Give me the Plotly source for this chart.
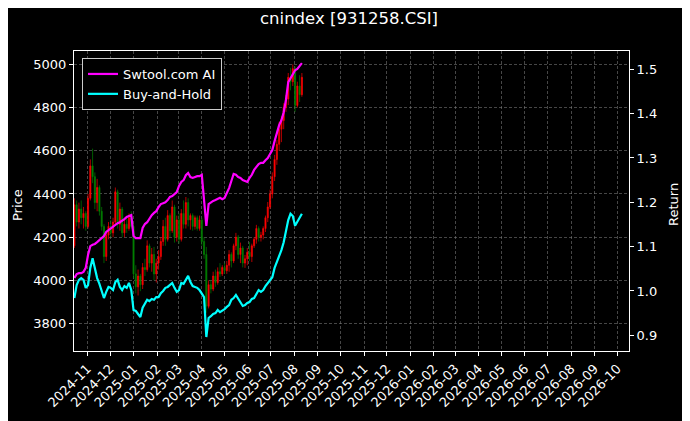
import pandas as pd
import plotly.graph_objects as go

# ---------------- data ----------------
start_date = "2024-10-15"   # first sample, samples every 3 calendar days
step = "3D"

open_ = [4160, 4350, 4270, 4330, 4290, 4310, 4250, 4380, 4530, 4480,
         4360, 4430, 4320, 4250, 4110, 4210, 4250, 4220, 4270, 4410,
         4260, 4330, 4220, 4260, 4240, 4290, 4250, 4030, 3970, 4020,
         3980, 4060, 4050, 4160, 4080, 4120, 4030, 4080, 4110, 4180,
         4250, 4190, 4300, 4230, 4340, 4200, 4280, 4190, 4310, 4260,
         4360, 4280, 4300, 4250, 4290, 4240, 4280, 4180, 4120, 3880,
         3980, 3960, 4020, 3990, 4040, 4030, 4060, 4045, 4070, 4120,
         4090, 4160, 4200, 4120, 4150, 4080, 4100, 4130, 4110, 4160,
         4190, 4240, 4200, 4210, 4240, 4290, 4340, 4400, 4480, 4560,
         4630, 4700, 4740, 4800, 4840, 4940, 4920, 4980, 4810, 4900,
         4860]
high = [4380, 4370, 4360, 4370, 4340, 4320, 4400, 4560, 4610, 4500,
        4470, 4440, 4340, 4260, 4230, 4270, 4280, 4290, 4430, 4420,
        4360, 4340, 4280, 4300, 4310, 4320, 4260, 4070, 4050, 4030,
        4080, 4100, 4185, 4170, 4150, 4155, 4100, 4140, 4200, 4280,
        4290, 4325, 4310, 4370, 4350, 4300, 4310, 4330, 4370, 4386,
        4380, 4310, 4310, 4300, 4300, 4300, 4290, 4200, 4155, 4000,
        4000, 4040, 4050, 4060, 4080, 4070, 4080, 4090, 4140, 4130,
        4170, 4220, 4210, 4175, 4160, 4118, 4150, 4178, 4170, 4200,
        4257, 4250, 4225, 4250, 4300, 4363, 4420, 4500, 4581, 4650,
        4734, 4760, 4820, 4858, 4960, 4984, 5000, 4990, 4920, 4950,
        4960]
low = [4150, 4250, 4240, 4260, 4240, 4230, 4240, 4370, 4450, 4330,
       4320, 4300, 4230, 4080, 4090, 4190, 4200, 4200, 4260, 4240,
       4230, 4200, 4200, 4220, 4230, 4240, 4010, 3940, 3930, 3950,
       3960, 4020, 4040, 4060, 4040, 4000, 3990, 4050, 4095, 4160,
       4160, 4180, 4200, 4220, 4175, 4180, 4170, 4180, 4240, 4240,
       4250, 4235, 4230, 4235, 4230, 4230, 4160, 4100, 3850, 3870,
       3940, 3950, 3970, 3980, 4016, 4020, 4030, 4030, 4040, 4060,
       4080, 4140, 4100, 4080, 4060, 4058, 4070, 4090, 4085, 4150,
       4170, 4180, 4180, 4190, 4224, 4270, 4330, 4380, 4460, 4535,
       4600, 4640, 4700, 4780, 4812, 4880, 4900, 4780, 4800, 4826,
       4850]
close = [4350, 4270, 4330, 4290, 4310, 4250, 4380, 4530, 4480, 4360,
         4430, 4320, 4250, 4110, 4210, 4250, 4220, 4270, 4410, 4260,
         4330, 4220, 4260, 4240, 4290, 4250, 4030, 3970, 4020, 3980,
         4060, 4050, 4160, 4080, 4120, 4030, 4080, 4110, 4180, 4250,
         4190, 4300, 4230, 4340, 4200, 4280, 4190, 4310, 4260, 4360,
         4280, 4300, 4250, 4290, 4240, 4280, 4180, 4120, 3880, 3980,
         3960, 4020, 3990, 4040, 4030, 4060, 4045, 4070, 4120, 4090,
         4160, 4200, 4120, 4150, 4080, 4100, 4130, 4110, 4160, 4190,
         4240, 4200, 4210, 4240, 4290, 4340, 4400, 4480, 4560, 4630,
         4700, 4740, 4800, 4840, 4940, 4920, 4980, 4810, 4900, 4860,
         4940]

strategy = [1.029, 1.038, 1.040, 1.040, 1.043, 1.052, 1.081, 1.101, 1.104, 1.106,
            1.110, 1.115, 1.119, 1.124, 1.133, 1.137, 1.142, 1.144, 1.149, 1.153,
            1.155, 1.158, 1.162, 1.167, 1.169, 1.171, 1.124, 1.119, 1.119, 1.119,
            1.142, 1.151, 1.155, 1.164, 1.171, 1.176, 1.180, 1.189, 1.196, 1.198,
            1.200, 1.205, 1.212, 1.214, 1.219, 1.223, 1.237, 1.246, 1.250, 1.261,
            1.266, 1.257, 1.255, 1.257, 1.259, 1.259, 1.262, 1.205, 1.147, 1.196,
            1.200, 1.203, 1.205, 1.207, 1.210, 1.207, 1.210, 1.221, 1.232, 1.248,
            1.264, 1.262, 1.257, 1.255, 1.250, 1.248, 1.246, 1.255, 1.262, 1.273,
            1.280, 1.286, 1.289, 1.289, 1.295, 1.300, 1.309, 1.318, 1.338, 1.358,
            1.374, 1.385, 1.403, 1.431, 1.471, 1.480, 1.489, 1.498, 1.501, 1.507,
            1.514]
buy_hold = [0.984, 1.013, 1.025, 1.029, 1.025, 1.007, 1.013, 1.052, 1.074, 1.052,
            1.029, 1.016, 0.998, 0.984, 0.998, 1.009, 1.007, 1.002, 1.020, 1.025,
            1.009, 1.002, 1.011, 1.007, 1.018, 1.002, 0.957, 0.955, 0.948, 0.941,
            0.962, 0.973, 0.980, 0.977, 0.982, 0.980, 0.986, 0.986, 0.995, 1.000,
            1.007, 1.009, 1.013, 1.018, 1.007, 0.998, 1.002, 1.018, 1.016, 1.025,
            1.034, 1.020, 1.011, 1.009, 1.007, 1.002, 0.995, 0.986, 0.896, 0.939,
            0.943, 0.948, 0.950, 0.957, 0.952, 0.955, 0.959, 0.964, 0.968, 0.980,
            0.984, 0.991, 0.982, 0.973, 0.966, 0.968, 0.973, 0.975, 0.982, 0.984,
            0.993, 1.002, 0.998, 1.002, 1.011, 1.018, 1.025, 1.031, 1.052, 1.065,
            1.081, 1.092, 1.110, 1.133, 1.160, 1.174, 1.169, 1.147, 1.158, 1.165,
            1.174]

month_ticks = pd.date_range("2024-11-01", "2026-10-01", freq="MS")
month_labels = [d.strftime("%Y-%m") for d in month_ticks]
price_ticks = [3800, 4000, 4200, 4400, 4600, 4800, 5000]
return_ticks = [0.9, 1.0, 1.1, 1.2, 1.3, 1.4, 1.5]

dates = pd.date_range(start_date, periods=len(close), freq=step)

# ---------------- figure ----------------
# The page body has an 8px default margin at top/left, so the figure is made
# 8px smaller and its left/top margins reduced to land the plot area in place.
FONT = "DejaVu Sans"
OFF = 8
W, H = 690 - OFF, 421 - OFF
fig = go.Figure()

fig.add_trace(go.Candlestick(
    x=dates, open=open_, high=high, low=low, close=close,
    increasing=dict(line=dict(color="#ff0000", width=0.7), fillcolor="#ff0000"),
    decreasing=dict(line=dict(color="#008000", width=0.7), fillcolor="#008000"),
    whiskerwidth=0, showlegend=False, hoverinfo="skip",
))
fig.add_trace(go.Scatter(
    x=dates, y=strategy, mode="lines", name="Swtool.com AI",
    line=dict(color="#ff00ff", width=2.2), yaxis="y2",
))
fig.add_trace(go.Scatter(
    x=dates, y=buy_hold, mode="lines", name="Buy-and-Hold",
    line=dict(color="#00ffff", width=2.2), yaxis="y2",
))

grid_col = "rgba(128,128,128,0.55)"
grid_dash = "3px,2px"
fig.update_layout(
    width=W, height=H,
    paper_bgcolor="black", plot_bgcolor="black",
    margin=dict(l=74 - OFF, r=61, t=51 - OFF, b=70, autoexpand=False),
    font=dict(family=FONT, size=13, color="white"),
    title=dict(text="cnindex [931258.CSI]", x=0.5, xanchor="center",
               y=(H - (18 - OFF)) / H, yanchor="middle", yref="container",
               font=dict(family=FONT, size=16.5, color="white")),
    xaxis=dict(
        type="date", automargin=False,
        range=["2024-10-14 12:00", "2026-10-16 08:00"],
        tickvals=list(month_ticks), ticktext=month_labels, tickangle=-45,
        showgrid=True, gridcolor=grid_col, griddash=grid_dash, gridwidth=0.6,
        showline=True, linecolor="white", linewidth=1, mirror=True,
        ticks="outside", ticklen=4, tickcolor="white",
        tickfont=dict(family=FONT, size=13, color="white"),
        rangeslider=dict(visible=False), zeroline=False,
    ),
    yaxis=dict(
        automargin=False,
        range=[3673, 5062], tickvals=price_ticks,
        showgrid=True, gridcolor=grid_col, griddash=grid_dash, gridwidth=0.6,
        showline=True, linecolor="white", linewidth=1,
        ticks="outside", ticklen=4, tickcolor="white",
        tickfont=dict(family=FONT, size=13, color="white"), zeroline=False,
    ),
    yaxis2=dict(
        automargin=False,
        overlaying="y", side="right",
        range=[0.8645, 1.5413], tickvals=return_ticks, tickformat=".1f",
        showgrid=False, showline=True, linecolor="white", linewidth=1,
        ticks="outside", ticklen=4, tickcolor="white",
        tickfont=dict(family=FONT, size=13, color="white"), zeroline=False,
    ),
    legend=dict(
        x=(82 - 74) / 555, y=(351 - 58) / 300, xanchor="left", yanchor="top",
        bgcolor="black", bordercolor="#cccccc", borderwidth=1,
        font=dict(family=FONT, size=13, color="white"),
        tracegroupgap=0,
    ),
    annotations=[
        dict(text="Price", x=(17 - 74) / 555, y=(351 - 205) / 300,
             xref="paper", yref="paper", textangle=-90, showarrow=False,
             xanchor="center", yanchor="middle",
             font=dict(family=FONT, size=13, color="white")),
        dict(text="Return", x=(673 - 74) / 555, y=(351 - 205) / 300,
             xref="paper", yref="paper", textangle=-90, showarrow=False,
             xanchor="center", yanchor="middle",
             font=dict(family=FONT, size=13, color="white")),
    ],
)

fig.write_html("out.html")
